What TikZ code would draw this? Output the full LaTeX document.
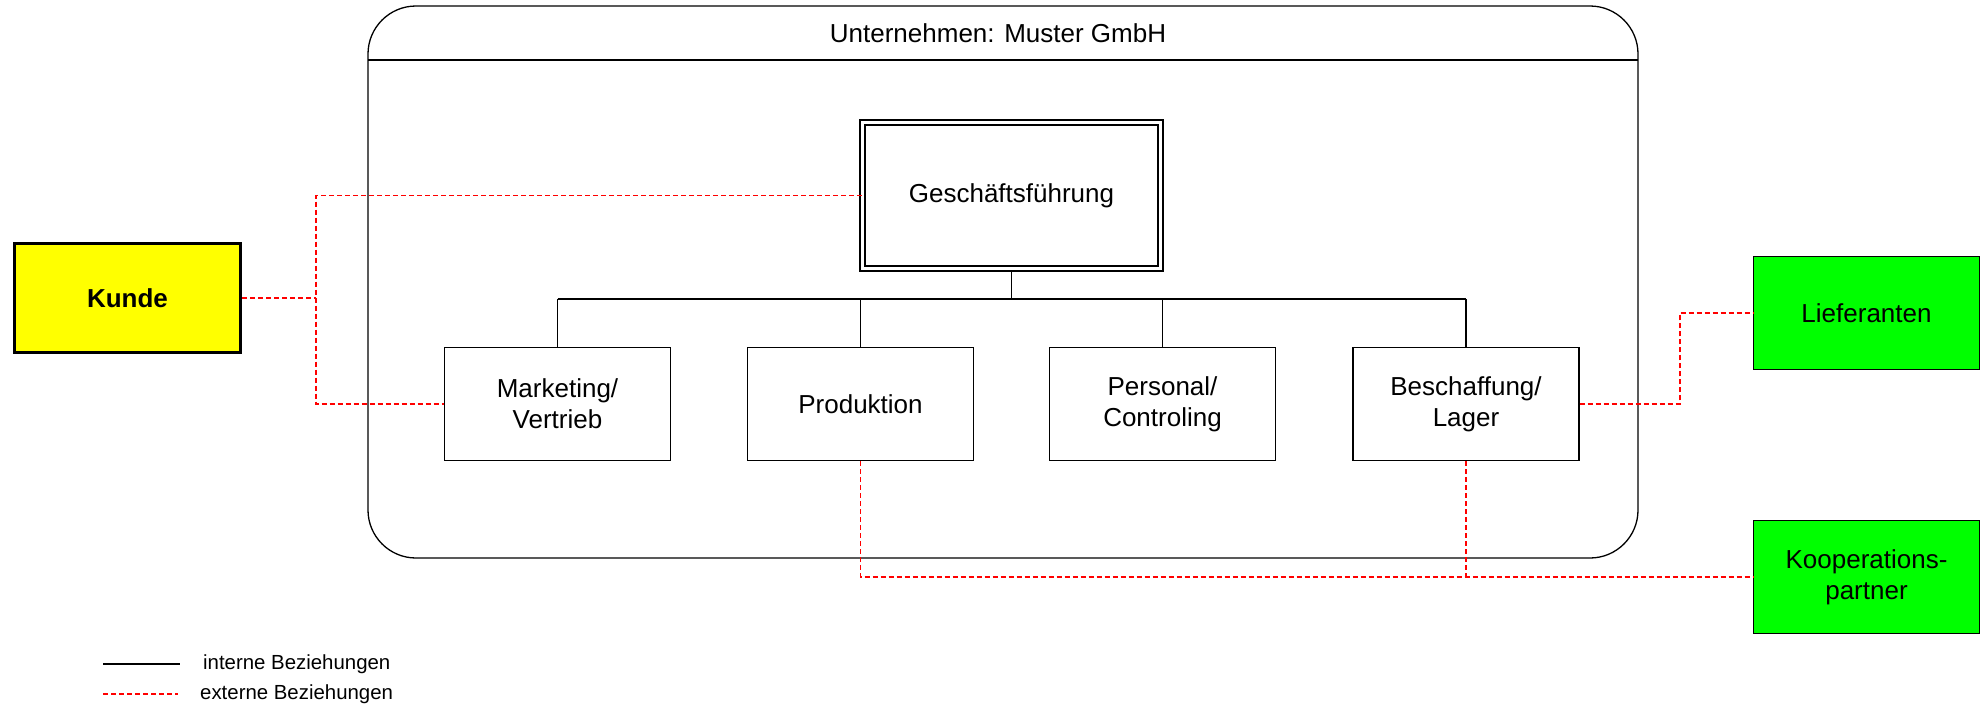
\documentclass[tikz,border=0pt]{standalone}
\usepackage{fontspec}
\setmainfont{Liberation Sans}
\usetikzlibrary{calc}
\definecolor{kundegelb}{HTML}{FFFF00}
\definecolor{partnergruen}{HTML}{00FF00}
\definecolor{extrot}{HTML}{FF0000}
\tikzset{
  x=1pt, y=-1pt,
  every node/.style={font=\fontsize{26}{31}\selectfont, align=center, inner sep=0pt},
  intern/.style={draw=black, line width=1.3pt},
  extern/.style={draw=extrot, line width=1.3pt, dash pattern=on 5pt off 3pt},
  abteilung/.style={draw=black, line width=1.3pt, fill=white, minimum width=226pt, minimum height=113pt},
  partner/.style={draw=black, line width=1.6pt, fill=partnergruen, minimum width=226pt, minimum height=113pt},
  legende/.style={font=\fontsize{20.4}{24}\selectfont, anchor=west}
}
\begin{document}
\begin{tikzpicture}
\useasboundingbox (0,0) rectangle (1988,707);

% company frame with title bar
\draw[intern, rounded corners=48pt] (368,6) rectangle (1638,558);
\coordinate (kopfL) at (368,60);
\coordinate (kopfR) at (1638,60);
\draw[intern] (kopfL) -- (kopfR);
\node (firma) at (998,33) {Unternehmen: Muster GmbH};

% management and departments
\node[draw=black, line width=1.3pt, double, double distance=3.7pt,
      minimum width=298pt, minimum height=146pt] (gf) at (1011.5,195.5) {Geschäftsführung};
\node[abteilung] (mk) at (557.5,404) {Marketing/\\Vertrieb};
\node[abteilung] (pr) at (860.5,404) {Produktion};
\node[abteilung] (pe) at (1162.5,404) {Personal/\\Controling};
\node[abteilung] (bs) at (1466,404) {Beschaffung/\\Lager};

% external partners
\node[draw=black, line width=3pt, fill=kundegelb, minimum width=226pt, minimum height=109pt,
      font=\fontsize{26}{31}\selectfont\bfseries] (ku) at (127.5,298) {Kunde};
\node[partner] (li) at (1866.5,313) {Lieferanten};
\node[partner] (kp) at (1866.5,577) {Kooperations-\\partner};

% internal relations (organisation tree)
\coordinate (bus) at (0,299);
\draw[intern, shorten <=2.5pt] (gf.south) -- (gf.south |- bus);
\draw[intern] (mk.north |- bus) -- (bs.north |- bus);
\foreach \a in {mk,pr,pe,bs} \draw[intern] (\a.north) -- (\a.north |- bus);

% external relations
\coordinate (kj) at (316,0);
\draw[extern] (ku.east) -- (ku.east -| kj);
\draw[extern] (gf.west) -- (gf.west -| kj) -- (mk.west -| kj) -- (mk.west);
\coordinate (lj) at (1680,0);
\draw[extern] (bs.east) -- (bs.east -| lj) |- (li.west);
\draw[extern] (pr.south) |- (kp.west);
\draw[extern] (bs.south) -- (bs.south |- kp.west);

% legend
\coordinate (l1a) at (103,664);
\coordinate (l1b) at (180,664);
\coordinate (l2a) at (103,694);
\coordinate (l2b) at (178,694);
\draw[intern] (l1a) -- (l1b);
\draw[extern] (l2a) -- (l2b);
\node[legende] (txtintern) at (203,664) {interne Beziehungen};
\node[legende] (txtextern) at (200,694) {externe Beziehungen};
\end{tikzpicture}
\end{document}
